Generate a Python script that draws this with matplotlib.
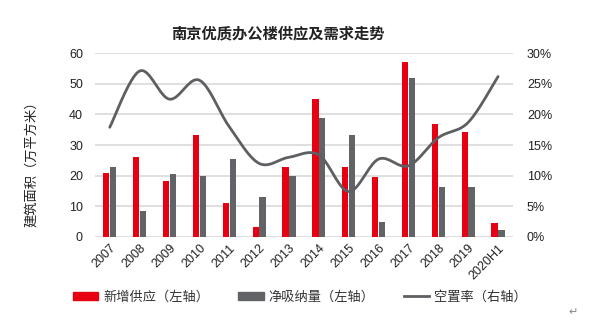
import numpy as np
import matplotlib
matplotlib.use("Agg")
import matplotlib.pyplot as plt
from matplotlib.patches import Patch
from matplotlib.lines import Line2D

plt.rcParams['font.family'] = ['Liberation Sans', 'Noto Sans CJK SC', 'DejaVu Sans']

categories = ["2007", "2008", "2009", "2010", "2011", "2012", "2013",
              "2014", "2015", "2016", "2017", "2018", "2019", "2020H1"]
new_supply = [20.9, 26.0, 18.1, 33.3, 10.9, 3.3, 22.8, 45.1, 22.7, 19.5, 57.0, 36.9, 34.2, 4.4]
net_absorption = [22.8, 8.4, 20.5, 20.0, 25.3, 13.1, 20.0, 38.9, 33.3, 4.7, 51.9, 16.2, 16.3, 2.3]
vacancy = [17.9, 27.1, 22.5, 25.6, 18.0, 12.0, 13.0, 13.4, 7.4, 12.7, 11.6, 16.2, 18.7, 26.2]

left_ticks = [0, 10, 20, 30, 40, 50, 60]
right_ticks = [0, 5, 10, 15, 20, 25, 30]

RED = "#e60012"
GREY = "#616367"
LINE = "#5e5f62"
GRID = "#d9d9d9"

fig = plt.figure(figsize=(6.0, 3.23), dpi=100)
ax = fig.add_axes([0.158, 0.267, 0.697, 0.568])
ax2 = ax.twinx()

x = np.arange(len(categories))
w = 0.21
ax.bar(x - w / 2 - 0.01, new_supply, width=w, color=RED, zorder=2)
ax.bar(x + w / 2 + 0.01, net_absorption, width=w, color=GREY, zorder=2)

ax.set_xlim(-0.5, len(categories) - 0.5)
ax.set_ylim(0, 60)
ax.set_yticks(left_ticks)
ax.set_yticklabels([str(t) for t in left_ticks], fontsize=9, color="#222222")
ax.yaxis.grid(True, color=GRID, lw=1.2, zorder=0)
ax.set_axisbelow(True)
ax.set_xticks(x)
ax.set_xticklabels(categories, rotation=45, ha="right", rotation_mode="anchor",
                   fontsize=9, color="#222222")
ax.tick_params(axis="both", length=0)
ax.tick_params(axis="x", pad=4)
ax.tick_params(axis="y", pad=8.5)
for s in ax.spines.values():
    s.set_visible(False)
ax.set_ylabel("建筑面积（万平方米）", fontsize=9.5, color="#222222")
ax.yaxis.set_label_coords(-0.136, 0.413)


def catmull_rom(xs, ys, n=20):
    xs = np.asarray(xs, float)
    ys = np.asarray(ys, float)
    P = np.column_stack([xs, ys])
    P = np.vstack([P[0], P, P[-1]])
    out = []
    for i in range(1, len(P) - 2):
        p0, p1, p2, p3 = P[i - 1], P[i], P[i + 1], P[i + 2]
        c1 = p1 + (p2 - p0) / 6.0
        c2 = p2 - (p3 - p1) / 6.0
        t = np.linspace(0, 1, n, endpoint=(i == len(P) - 3))[:, None]
        seg = ((1 - t) ** 3) * p1 + 3 * ((1 - t) ** 2) * t * c1 + 3 * (1 - t) * t ** 2 * c2 + t ** 3 * p2
        out.append(seg)
    out = np.vstack(out)
    return out[:, 0], out[:, 1]


sx, sy = catmull_rom(x, vacancy)
ax2.plot(sx, sy, color=LINE, lw=2.0, solid_capstyle="round", zorder=3)
ax2.set_ylim(0, 30)
ax2.set_yticks(right_ticks)
ax2.set_yticklabels([f"{t}%" for t in right_ticks], fontsize=9, color="#222222")
ax2.tick_params(axis="y", length=0, pad=10)
for s in ax2.spines.values():
    s.set_visible(False)

fig.text(0.463, 0.896, "南京优质办公楼供应及需求走势", ha="center", va="center",
         fontsize=11, fontweight="bold", color="#222222")

handles = [Patch(color=RED), Patch(color=GREY), Line2D([0], [0], color=LINE, lw=2.0)]
labels = ["新增供应（左轴）", "净吸纳量（左轴）", "空置率（右轴）"]
fig.legend(handles, labels, loc="center", bbox_to_anchor=(0.5, 0.08), ncol=3,
           frameon=False, fontsize=9.5, handlelength=1.9, handleheight=0.5,
           handletextpad=0.4, columnspacing=2.2, labelcolor="#333333")

fig.text(0.955, 0.035, "↵", fontsize=8, color="#888888", family="DejaVu Sans",
         ha="center", va="center")

fig.savefig("out.png", dpi=100)
